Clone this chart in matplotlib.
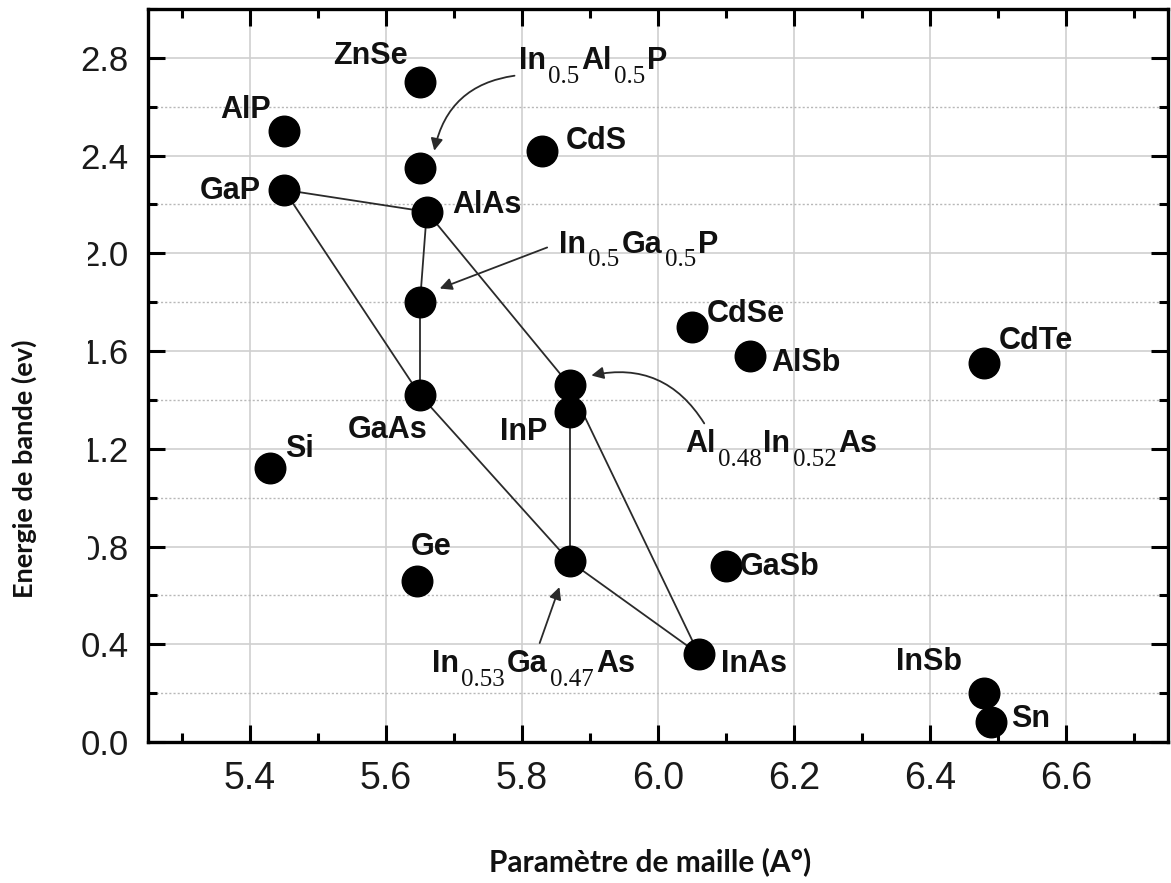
import numpy as np
import matplotlib.pyplot as plt
from matplotlib.patches import Rectangle
from matplotlib.ticker import MultipleLocator

# materials: lattice constant (A) and band gap (eV)
names = ["ZnSe", "AlP", "InAlP", "CdS", "GaP", "AlAs", "InGaP", "CdSe", "AlSb",
         "CdTe", "AlInAs", "InP", "GaAs", "Si", "Ge", "InGaAs", "GaSb", "InAs",
         "InSb", "Sn"]
lattice = [5.65, 5.45, 5.65, 5.83, 5.45, 5.66, 5.65, 6.05, 6.135,
           6.48, 5.87, 5.87, 5.65, 5.43, 5.646, 5.87, 6.10, 6.06,
           6.48, 6.49]
gap = [2.70, 2.50, 2.35, 2.42, 2.26, 2.17, 1.80, 1.70, 1.58,
       1.55, 1.46, 1.35, 1.42, 1.12, 0.66, 0.74, 0.72, 0.36,
       0.20, 0.08]

# alloy tie lines
links = [["GaAs", "GaP", "AlAs"],
         ["AlAs", "InGaP", "GaAs"],
         ["GaAs", "InGaAs", "InAs"],
         ["AlAs", "AlInAs", "InAs"],
         ["InP", "InGaAs"]]

# label pieces (text, is_subscript) and position (left, baseline)
labels = {
    "ZnSe": ([("ZnSe", 0)], 5.522, 2.776),
    "InAlP": ([("In", 0), ("0.5", 1), ("Al", 0), ("0.5", 1), ("P", 0)], 5.796, 2.756),
    "AlP": ([("AlP", 0)], 5.356, 2.555),
    "CdS": ([("CdS", 0)], 5.865, 2.428),
    "GaP": ([("GaP", 0)], 5.326, 2.224),
    "AlAs": ([("AlAs", 0)], 5.698, 2.167),
    "InGaP": ([("In", 0), ("0.5", 1), ("Ga", 0), ("0.5", 1), ("P", 0)], 5.855, 2.003),
    "CdSe": ([("CdSe", 0)], 6.072, 1.717),
    "AlSb": ([("AlSb", 0)], 6.166, 1.517),
    "CdTe": ([("CdTe", 0)], 6.501, 1.607),
    "Si": ([("Si", 0)], 5.451, 1.165),
    "GaAs": ([("GaAs", 0)], 5.544, 1.243),
    "InP": ([("InP", 0)], 5.767, 1.235),
    "AlInAs": ([("Al", 0), ("0.48", 1), ("In", 0), ("0.52", 1), ("As", 0)], 6.040, 1.186),
    "Ge": ([("Ge", 0)], 5.636, 0.765),
    "GaSb": ([("GaSb", 0)], 6.120, 0.683),
    "InGaAs": ([("In", 0), ("0.53", 1), ("Ga", 0), ("0.47", 1), ("As", 0)], 5.668, 0.286),
    "InAs": ([("InAs", 0)], 6.093, 0.286),
    "InSb": ([("InSb", 0)], 6.350, 0.294),
    "Sn": ([("Sn", 0)], 6.520, 0.061),
}

# arrows from alloy labels to their points: (tail, head, curvature)
arrows = [((5.789, 2.727), (5.671, 2.420), 0.35),
          ((5.837, 2.024), (5.679, 1.856), 0.0),
          ((6.068, 1.304), (5.902, 1.500), 0.35),
          ((5.826, 0.405), (5.855, 0.634), 0.0)]

pos = {n: (x, y) for n, x, y in zip(names, lattice, gap)}

main_font = dict(fontsize=22, fontweight="bold", family="Liberation Sans",
                 color="#111111")
sub_font = dict(fontsize=18, family="Liberation Serif", color="#111111")


def put_label(ax, parts, x, y):
    # chain the pieces left to right, subscripts dropped below the baseline
    prev = ax.text(x, y, parts[0][0], ha="left", va="baseline", zorder=5, **main_font)
    for txt, sub in parts[1:]:
        style = sub_font if sub else main_font
        prev = ax.annotate(txt, xy=(1, y), xycoords=(prev, "data"),
                           xytext=(1.5, -10 if sub else 0), textcoords="offset points",
                           ha="left", va="baseline", zorder=5, **style)


fig = plt.figure(figsize=(11.71, 8.83), dpi=100)
ax = fig.add_axes([148 / 1171, 1 - 742 / 883, 1020 / 1171, 733 / 883])

for chain in links:
    xs = [pos[n][0] for n in chain]
    ys = [pos[n][1] for n in chain]
    ax.plot(xs, ys, color="#2a2a2a", lw=1.3, zorder=3)

ax.plot(lattice, gap, "o", color="black", markersize=22, zorder=4, linestyle="none")

for key, (parts, lx, ly) in labels.items():
    put_label(ax, parts, lx, ly)

for tail, head, rad in arrows:
    ax.annotate("", xy=head, xytext=tail,
                arrowprops=dict(arrowstyle="-|>", color="#2a2a2a", lw=1.3,
                                mutation_scale=18, shrinkA=0, shrinkB=0,
                                connectionstyle="arc3,rad=%.2f" % rad),
                zorder=5)

ax.set_xlim(5.25, 6.75)
ax.set_ylim(0, 3.0)
ax.xaxis.set_major_locator(MultipleLocator(0.2))
ax.xaxis.set_minor_locator(MultipleLocator(0.1))
ax.yaxis.set_major_locator(MultipleLocator(0.4))
ax.yaxis.set_minor_locator(MultipleLocator(0.2))
ax.xaxis.set_major_formatter(plt.FormatStrFormatter("%.1f"))
ax.yaxis.set_major_formatter(plt.FormatStrFormatter("%.1f"))

ax.grid(True, which="major", color="#cfcfcf", lw=1.2, zorder=0)
ax.grid(True, which="minor", axis="y", color="#b8b8b8", lw=1.0,
        linestyle=(0, (1.5, 1.5)), zorder=0)
ax.set_axisbelow(True)

for s in ax.spines.values():
    s.set_linewidth(2.4)
ax.tick_params(which="both", direction="in", top=True, right=True, width=2.2,
               color="black")
ax.tick_params(which="major", length=12, pad=14)
ax.tick_params(which="minor", length=6.5)
for t in ax.get_xticklabels():
    t.set_fontsize(27)
    t.set_family("Liberation Sans")
    t.set_color("#1a1a1a")
for t in ax.get_yticklabels():
    t.set_fontsize(25)
    t.set_family("Liberation Sans")
    t.set_color("#1a1a1a")

# white panel behind the vertical title
fig.add_artist(Rectangle((0, 1 - 600 / 883), 88 / 1171, 400 / 883,
                         transform=fig.transFigure, facecolor="white",
                         edgecolor="none", zorder=5))
fig.text(24 / 1171, 1 - 469 / 883, "Energie de bande (ev)", rotation=90,
         ha="center", va="center", fontsize=19.5, fontweight="bold",
         family="Lato", color="#111111", zorder=6)
fig.text(650 / 1171, 1 - 862 / 883, "Paramètre de maille (A°)",
         ha="center", va="center", fontsize=21.5, fontweight="bold",
         family="Lato", color="#111111")

fig.savefig("out.png", dpi=100)
